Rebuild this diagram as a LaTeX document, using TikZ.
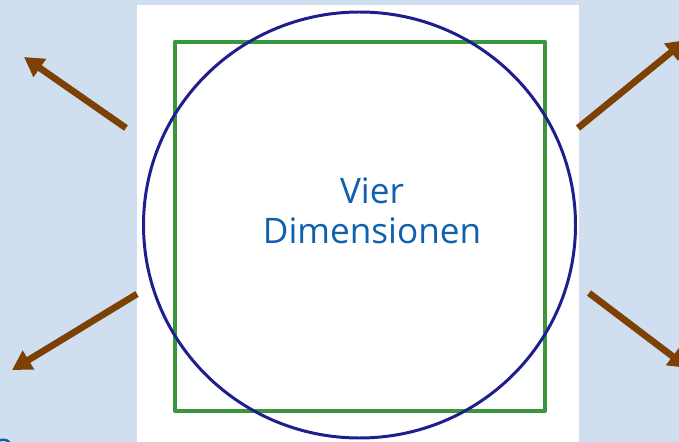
\documentclass[tikz,border=0pt]{standalone}
\usepackage{fontspec}
\setsansfont{Open Sans}
\usetikzlibrary{arrows.meta}
\definecolor{bgblue}{RGB}{207,223,240}
\definecolor{txtblue}{RGB}{16,96,176}
\definecolor{ringblue}{RGB}{30,30,140}
\definecolor{sqgreen}{RGB}{58,150,58}
\definecolor{arrbrown}{RGB}{125,64,5}
\tikzset{
  outarrow/.style={arrbrown, line width=3.8pt, line cap=butt,
    -{Triangle[length=11pt,width=12pt]}},
  label/.style={txtblue, font=\sffamily\fontsize{20}{23}\selectfont, align=center}
}
\begin{document}
\begin{tikzpicture}[x=0.02cm, y=-0.02cm, line join=round]
  \clip (0,0) rectangle (679,442);
  \fill[bgblue] (0,0) rectangle (679,442);
  \fill[white] (137,5) rectangle (579,442);
  % square and circle
  \draw[sqgreen, line width=2.3pt] (175,42) rectangle (545,411);
  \draw[ringblue, line width=1.7pt] (359.5,225) ellipse [x radius=216, y radius=213];
  \node[label] (dims) at (372,211) {Vier\\Dimensionen};
  \node[label, anchor=base] (three) at (4,464) {3};
  % arrows
  \coordinate (tlS) at (126,128);  \coordinate (tlE) at (24,57);
  \coordinate (trS) at (578,128);  \coordinate (trE) at (686,40);
  \coordinate (blS) at (137,294);  \coordinate (blE) at (12,370);
  \coordinate (brS) at (589,293);  \coordinate (brE) at (688,368);
  \draw[outarrow] (tlS) -- (tlE);
  \draw[outarrow] (trS) -- (trE);
  \draw[outarrow] (blS) -- (blE);
  \draw[outarrow] (brS) -- (brE);
\end{tikzpicture}
\end{document}
